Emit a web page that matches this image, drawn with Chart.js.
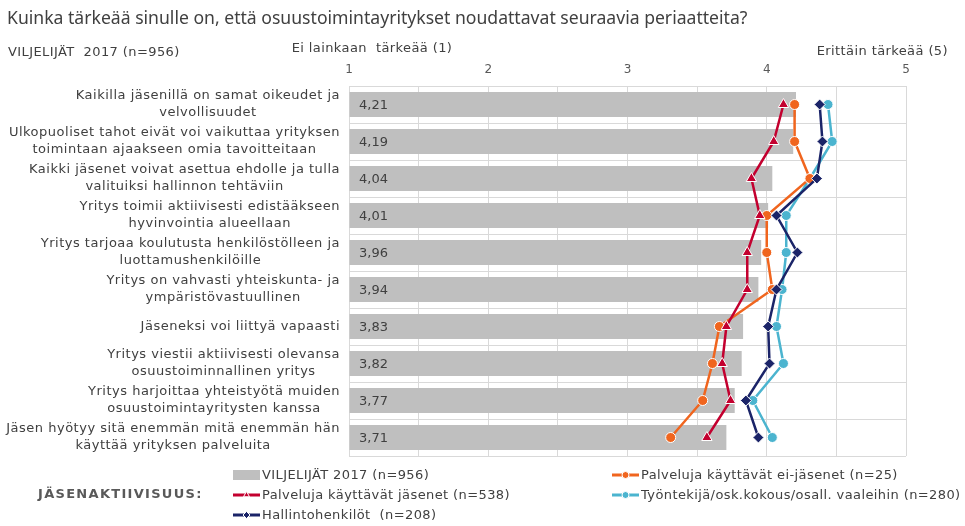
<!DOCTYPE html>
<html>
<head>
<meta charset="utf-8">
<script src="https://cdn.jsdelivr.net/npm/chart.js@4.4.1/dist/chart.umd.min.js"></script>
<style>
  html, body { margin: 0; padding: 0; background: #fff; }
</style>
</head>
<body>
<canvas id="myChart" width="965" height="526"></canvas>
<script>
// Categories (each label split in lines as in the original)
var categories = [
    ['Kaikilla jäsenillä on samat oikeudet ja', 'velvollisuudet'],
    ['Ulkopuoliset tahot eivät voi vaikuttaa yrityksen', 'toimintaan ajaakseen omia tavoitteitaan'],
    ['Kaikki jäsenet voivat asettua ehdolle ja tulla', 'valituiksi hallinnon tehtäviin'],
    ['Yritys toimii aktiivisesti edistääkseen', 'hyvinvointia alueellaan'],
    ['Yritys tarjoaa koulutusta henkilöstölleen ja', 'luottamushenkilöille'],
    ['Yritys on vahvasti yhteiskunta- ja', 'ympäristövastuullinen'],
    ['Jäseneksi voi liittyä vapaasti'],
    ['Yritys viestii aktiivisesti olevansa', 'osuustoiminnallinen yritys'],
    ['Yritys harjoittaa yhteistyötä muiden', 'osuustoimintayritysten kanssa'],
    ['Jäsen hyötyy sitä enemmän mitä enemmän hän', 'käyttää yrityksen palveluita']
];

// Series values (scale 1-5)
var farmers2017 = [4.21, 4.19, 4.04, 4.01, 3.96, 3.94, 3.83, 3.82, 3.77, 3.71];
var nonMembers  = [4.20, 4.20, 4.31, 4.00, 4.00, 4.04, 3.66, 3.61, 3.54, 3.31];
var members     = [4.12, 4.05, 3.89, 3.95, 3.86, 3.86, 3.71, 3.68, 3.74, 3.57];
var staff       = [4.44, 4.47, 4.31, 4.14, 4.14, 4.11, 4.07, 4.12, 3.90, 4.04];
var admins      = [4.38, 4.40, 4.36, 4.07, 4.22, 4.07, 4.01, 4.02, 3.85, 3.94];

// Tick labels shown on the top axis
var xTicks = [1, 2, 3, 4, 5];

var seriesNames = [
    'VILJELIJÄT 2017 (n=956)',
    'Palveluja käyttävät ei-jäsenet (n=25)',
    'Palveluja käyttävät jäsenet (n=538)',
    'Työntekijä/osk.kokous/osall. vaaleihin (n=280)',
    'Hallintohenkilöt  (n=208)'
];

var GRAY = '#BFBFBF', ORANGE = '#F0651E', RED = '#C3002F', CYAN = '#4BB4CF', NAVY = '#1B2468';
var TEXT = '#404040';

function fmt(v) { return v.toFixed(2).replace('.', ','); }

var extras = {
    id: 'extras',
    afterDraw: function (chart) {
        var ctx = chart.ctx;
        var area = chart.chartArea;
        var yScale = chart.scales.y;
        ctx.save();

        // title and headers
        ctx.fillStyle = TEXT;
        ctx.textBaseline = 'middle';
        ctx.textAlign = 'left';
        ctx.font = '17.6px "Noto Sans"';
        ctx.fillText('Kuinka tärkeää sinulle on, että osuustoimintayritykset noudattavat seuraavia periaatteita?', 7, 19);
        ctx.font = '13px "DejaVu Sans"';
        ctx.letterSpacing = '0.4px';
        ctx.fillText('VILJELIJÄT  2017 (n=956)', 8, 53);
        ctx.textAlign = 'center';
        ctx.fillText('Ei lainkaan  tärkeää (1)', 372, 49);
        ctx.textAlign = 'right';
        ctx.fillText('Erittäin tärkeää (5)', 948, 52);

        // category labels: block right aligned, lines centred within block
        ctx.font = '13px "DejaVu Sans"';
        ctx.letterSpacing = '0.5px';
        categories.forEach(function (lines, i) {
            var yc = yScale.getPixelForValue(i);
            var w = 0;
            lines.forEach(function (l) { w = Math.max(w, ctx.measureText(l).width); });
            var cx = 340 - w / 2;
            ctx.textAlign = 'center';
            lines.forEach(function (l, j) {
                ctx.fillText(l, cx, yc + (j - (lines.length - 1) / 2) * 17);
            });
        });
        ctx.letterSpacing = '0px';

        // value labels inside bars
        ctx.font = '13px "DejaVu Sans"';
        ctx.textAlign = 'left';
        chart.getDatasetMeta(0).data.forEach(function (bar, i) {
            ctx.fillText(fmt(farmers2017[i]), area.left + 10, bar.y + 1);
        });

        // legend
        var ds = chart.data.datasets;
        var pos = [[233, 475], [612, 475], [233, 495], [612, 495], [233, 515]];
        ds.forEach(function (d, i) {
            var x = pos[i][0], y = pos[i][1];
            if (d.type === 'bar') {
                ctx.fillStyle = GRAY;
                ctx.fillRect(x, y - 5, 27, 10);
            } else {
                ctx.strokeStyle = d.borderColor;
                ctx.lineWidth = 3;
                ctx.beginPath();
                ctx.moveTo(x, y);
                ctx.lineTo(x + 27, y);
                ctx.stroke();
                ctx.fillStyle = d.borderColor;
                ctx.strokeStyle = '#fff';
                ctx.lineWidth = 1;
                Chart.helpers.drawPoint(ctx, { pointStyle: d.pointStyle, radius: 3.5, rotation: 0, borderWidth: 1 }, x + 13.5, y);
            }
            ctx.fillStyle = TEXT;
            ctx.textAlign = 'left';
            ctx.font = '13px "DejaVu Sans"';
            ctx.letterSpacing = '0.4px';
            ctx.fillText(d.label, x + 29, y + 1);
            ctx.letterSpacing = '0px';
        });
        ctx.font = 'bold 13px "DejaVu Sans"';
        ctx.letterSpacing = '1.3px';
        ctx.fillStyle = '#595959';
        ctx.fillText('JÄSENAKTIIVISUUS:', 38, 495);
        ctx.letterSpacing = '0px';

        ctx.restore();
    }
};

var lineBase = {
    type: 'line',
    borderWidth: 2.5,
    pointRadius: 5,
    pointHoverRadius: 5,
    pointBorderColor: '#fff',
    pointBorderWidth: 1,
    tension: 0,
    fill: false
};

var ctx = document.getElementById('myChart').getContext('2d');
var myChart = new Chart(ctx, {
    type: 'bar',
    data: {
        labels: categories.map(function (c) { return c.join(' '); }),
        datasets: [
            {
                type: 'bar',
                label: seriesNames[0],
                data: farmers2017,
                backgroundColor: GRAY,
                base: 1,
                barPercentage: 0.68,
                categoryPercentage: 1,
                order: 10
            },
            Object.assign({}, lineBase, {
                label: seriesNames[1], data: nonMembers,
                borderColor: ORANGE, backgroundColor: ORANGE,
                pointStyle: 'circle', order: 3
            }),
            Object.assign({}, lineBase, {
                label: seriesNames[2], data: members,
                borderColor: RED, backgroundColor: RED,
                pointStyle: 'triangle', pointRadius: 6, pointHoverRadius: 6, order: 1
            }),
            Object.assign({}, lineBase, {
                label: seriesNames[3], data: staff,
                borderColor: CYAN, backgroundColor: CYAN,
                pointStyle: 'circle', order: 4
            }),
            Object.assign({}, lineBase, {
                label: seriesNames[4], data: admins,
                borderColor: NAVY, backgroundColor: NAVY,
                pointStyle: 'rectRot', pointRadius: 5.5, pointHoverRadius: 5.5, order: 2
            })
        ]
    },
    options: {
        responsive: false,
        animation: false,
        indexAxis: 'y',
        layout: { padding: { left: 0, right: 59, top: 0, bottom: 70 } },
        plugins: {
            legend: { display: false },
            tooltip: { enabled: false }
        },
        scales: {
            x: {
                type: 'linear',
                position: 'top',
                min: 1,
                max: 5,
                afterFit: function (s) { s.height = 86; },
                afterBuildTicks: function (s) {
                    var t = [];
                    for (var v = 1; v <= 5.001; v += 0.5) t.push({ value: v });
                    s.ticks = t;
                },
                ticks: {
                    padding: 9,
                    color: '#595959',
                    font: { family: 'DejaVu Sans', size: 12 },
                    callback: function (v) { return xTicks.indexOf(v) >= 0 ? String(v) : ''; }
                },
                grid: { color: '#D9D9D9', drawTicks: false },
                border: { color: '#D9D9D9' }
            },
            y: {
                type: 'category',
                afterFit: function (s) { s.width = 349; },
                ticks: { display: false },
                grid: { color: '#D9D9D9', offset: true, drawTicks: false },
                border: { color: '#D9D9D9' }
            }
        }
    },
    plugins: [extras]
});
</script>
</body>
</html>
